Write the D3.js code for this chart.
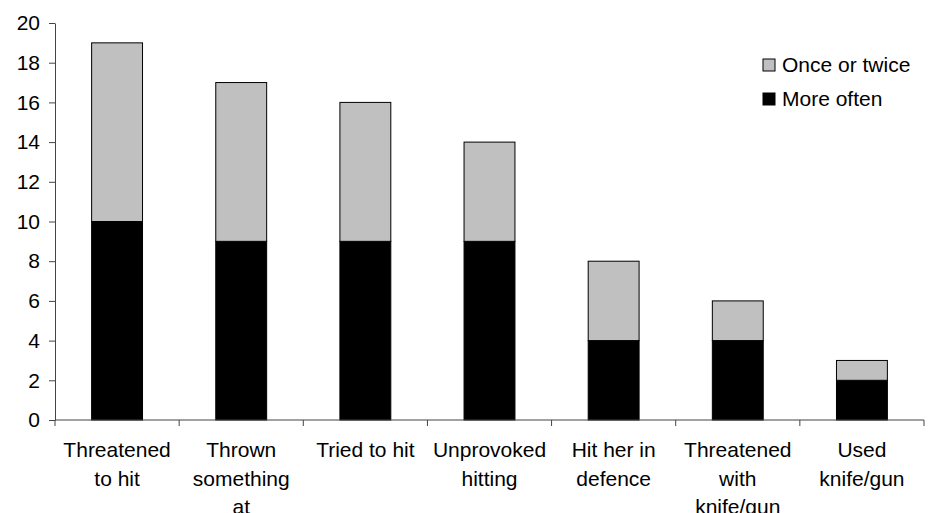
<!DOCTYPE html>
<html>
<head>
<meta charset="utf-8">
<script src="https://cdn.jsdelivr.net/npm/d3@7"></script>
<style>
  body { margin: 0; background: #fff; }
  svg text { font-family: "Liberation Sans", Arial, sans-serif; fill: #000; }
</style>
</head>
<body>
<div id="chart"></div>
<script>
// data
var categories = [
  ["Threatened", "to hit"],
  ["Thrown", "something", "at"],
  ["Tried to hit"],
  ["Unprovoked", "hitting"],
  ["Hit her in", "defence"],
  ["Threatened", "with", "knife/gun"],
  ["Used", "knife/gun"]
];
var moreOften = [10, 9, 9, 9, 4, 4, 2];
var onceOrTwice = [9, 8, 7, 5, 4, 2, 1];
var yTicks = [0, 2, 4, 6, 8, 10, 12, 14, 16, 18, 20];

var width = 930, height = 513;
var plotLeft = 55, plotRight = 924, plotTop = 23, plotBottom = 420;

var svg = d3.select('#chart').append('svg')
    .attr('width', width)
    .attr('height', height);

var keys = categories.map((c, i) => i);
var xScale = d3.scaleBand()
    .range([plotLeft, plotRight])
    .domain(keys)
    .paddingInner(0.59)
    .paddingOuter(0.295);

var yScale = d3.scaleLinear()
    .range([plotBottom, plotTop])
    .domain([0, 20]);

var rows = keys.map(i => ({ key: i, more: moreOften[i], once: onceOrTwice[i] }));
var stacked = d3.stack().keys(['more', 'once'])(rows);
var fills = { more: '#000000', once: '#c0c0c0' };

// bars
svg.selectAll('g.layer')
  .data(stacked)
  .enter()
  .append('g')
    .attr('class', 'layer')
    .attr('fill', d => fills[d.key])
  .selectAll('rect')
  .data(d => d)
  .enter()
  .append('rect')
    .attr('x', d => xScale(d.data.key))
    .attr('width', xScale.bandwidth())
    .attr('y', d => yScale(d[1]))
    .attr('height', d => yScale(d[0]) - yScale(d[1]))
    .attr('stroke', '#000')
    .attr('stroke-width', 1);

// y axis
var yAxis = svg.append('g')
    .attr('transform', 'translate(' + plotLeft + ',0)')
    .call(d3.axisLeft(yScale).tickValues(yTicks).tickSize(6).tickPadding(9).tickSizeOuter(0));
yAxis.selectAll('text').style('font-size', '21px');

// x axis, ticks at category boundaries
var bounds = d3.range(categories.length + 1).map(i => plotLeft + i * (plotRight - plotLeft) / categories.length);
var xAxis = svg.append('g');
xAxis.append('line')
    .attr('x1', plotLeft).attr('x2', plotRight)
    .attr('y1', plotBottom).attr('y2', plotBottom);
xAxis.selectAll('line.tick')
  .data(bounds)
  .enter()
  .append('line')
    .attr('class', 'tick')
    .attr('x1', d => d).attr('x2', d => d)
    .attr('y1', plotBottom).attr('y2', plotBottom + 6);
xAxis.selectAll('line').attr('stroke', '#444').attr('stroke-width', 1);
svg.selectAll('.domain, .tick line').attr('stroke', '#444');

var labels = svg.selectAll('text.xlab')
  .data(categories)
  .enter()
  .append('text')
    .attr('class', 'xlab')
    .attr('text-anchor', 'middle')
    .style('font-size', '21px')
    .attr('transform', (d, i) => 'translate(' + (xScale(i) + xScale.bandwidth() / 2) + ',457)');
labels.selectAll('tspan')
  .data(d => d)
  .enter()
  .append('tspan')
    .attr('x', 0)
    .attr('y', (d, j) => j * 28.5)
    .text(d => d);

// legend
var legendItems = [
  { name: 'Once or twice', fill: fills.once },
  { name: 'More often', fill: fills.more }
];
var legend = svg.selectAll('g.legend')
  .data(legendItems)
  .enter()
  .append('g')
    .attr('class', 'legend')
    .attr('transform', (d, i) => 'translate(763,' + (59 + i * 34) + ')');
legend.append('rect')
    .attr('width', 12).attr('height', 12)
    .attr('fill', d => d.fill)
    .attr('stroke', '#000');
legend.append('text')
    .attr('x', 19).attr('y', 13)
    .style('font-size', '21px')
    .text(d => d.name);
</script>
</body>
</html>
